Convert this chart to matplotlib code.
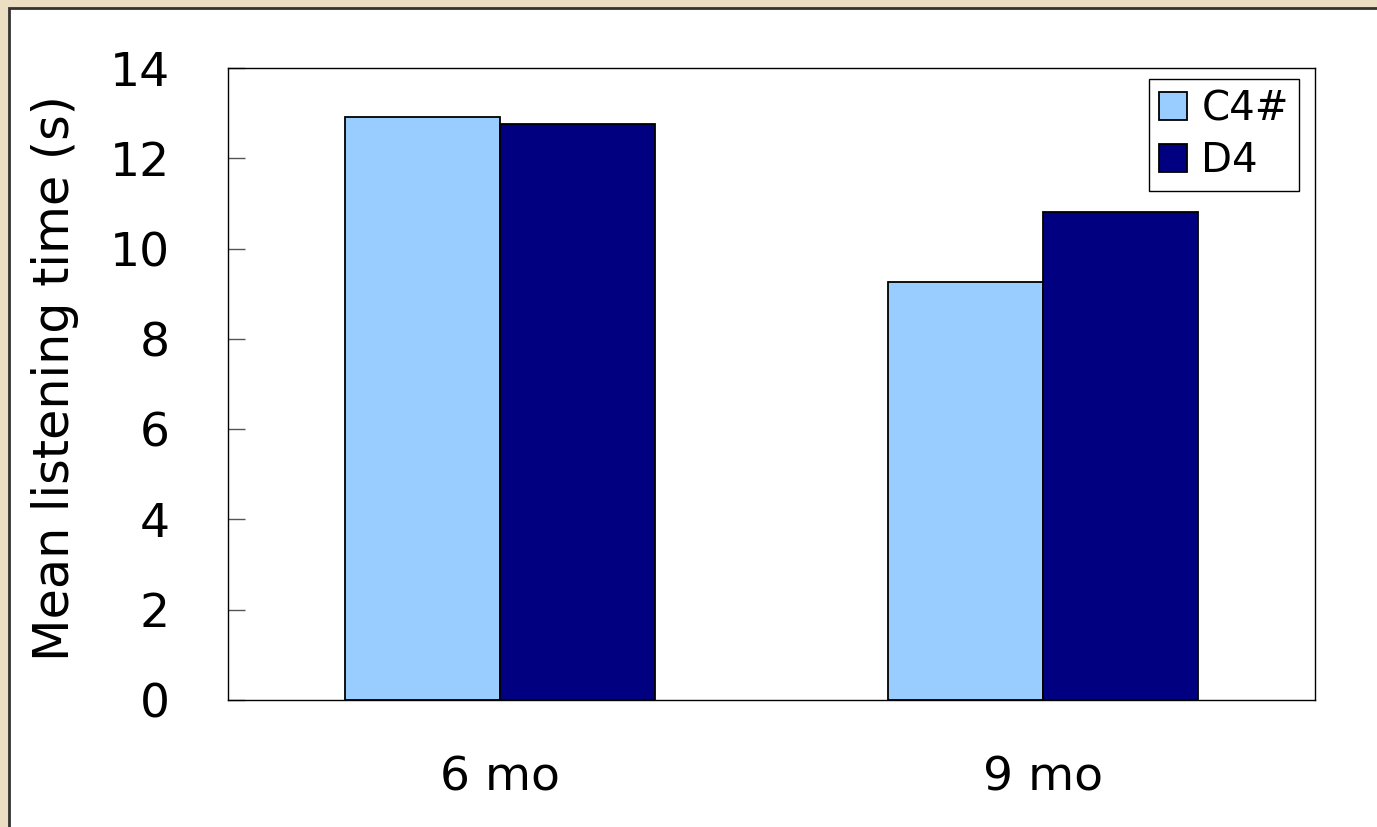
import matplotlib.pyplot as plt
import numpy as np
from matplotlib.patches import Rectangle

ages = ['6 mo', '9 mo']
c4_sharp = [12.92, 9.25]
d4 = [12.75, 10.8]
yticks = [0, 2, 4, 6, 8, 10, 12, 14]

W, H = 1377, 827
fig = plt.figure(figsize=(W / 100, H / 100), dpi=100)
fig.patch.set_facecolor('#ECDEC3')
# white slide panel with dark edge (beige only shows top and left)
fig.patches.append(Rectangle((9 / W, -0.01), 1.0, 1 - 8 / H + 0.01, transform=fig.transFigure,
                             facecolor='white', edgecolor='#333333', linewidth=2, zorder=-5))

ax = fig.add_axes([228 / W, 1 - 700 / H, (1315 - 228) / W, (700 - 68) / H])
ax.set_zorder(2)
ax.patch.set_alpha(0)
x = np.arange(len(ages))
width = 0.285
ax.bar(x - width / 2, c4_sharp, width, color='#99CCFF', edgecolor='black', linewidth=1.3, label='C4#')
ax.bar(x + width / 2, d4, width, color='#000080', edgecolor='black', linewidth=1.3, label='D4')

ax.set_xlim(-0.5, 1.5)
ax.set_ylim(0, 14)
ax.set_yticks(yticks)
ax.set_xticks(x)
ax.set_xticklabels(ages)
ax.tick_params(axis='y', direction='in', length=12, width=1, color='#555555', pad=42, labelsize=34)
ax.tick_params(axis='x', length=0, pad=40, labelsize=34)
for s in ax.spines.values():
    s.set_linewidth(1)
    s.set_color('black')

ax.set_ylabel('Mean listening time (s)', fontsize=35.5)
ax.yaxis.label.set_va('center')
ax.yaxis.set_label_coords(-0.159, 0.51)

leg = ax.legend(loc='upper right', bbox_to_anchor=(1299 / W, 1 - 79 / H), bbox_transform=fig.transFigure,
                fontsize=29, frameon=True, fancybox=False, framealpha=1, edgecolor='black',
                handlelength=0.7, handleheight=0.7, handletextpad=0.35, labelspacing=0.3,
                borderpad=0.25, borderaxespad=0)
leg.get_frame().set_linewidth(1)

fig.savefig('out.png', dpi=100, facecolor=fig.get_facecolor())
